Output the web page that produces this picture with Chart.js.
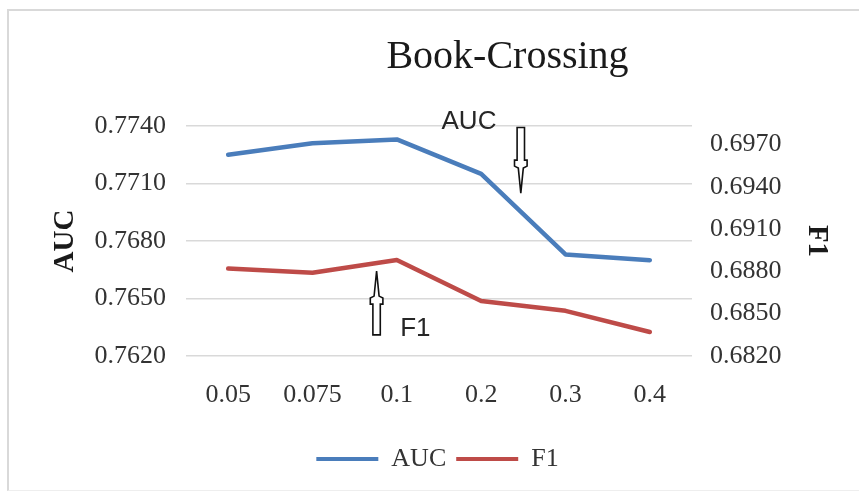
<!DOCTYPE html>
<html>
<head>
<meta charset="utf-8">
<script src="https://cdn.jsdelivr.net/npm/chart.js@4/dist/chart.umd.min.js"></script>
<style>
  body { margin: 0; background: #fff; overflow: hidden; }
  #wrap { position: relative; width: 859px; height: 493px; overflow: hidden; }
  #frame { position: absolute; left: 7px; top: 9px; right: -4px; bottom: 2px;
           border-left: 2px solid #d9d9d9; border-top: 2px solid #d9d9d9; border-bottom: 1px solid #eeeeee; }
  #grafico { position: absolute; left: 0; top: 0; }
</style>
</head>
<body>
<div id="wrap">
  <div id="frame"></div>
  <canvas id="grafico" width="859" height="493"></canvas>
</div>
<script>
// dados
const categorias = ['0.05', '0.075', '0.1', '0.2', '0.3', '0.4'];
const valoresAUC = [0.7725, 0.7731, 0.7733, 0.7715, 0.7673, 0.7670];
const valoresF1 = [0.6882, 0.6879, 0.6888, 0.6859, 0.6852, 0.6837];
const ticksAUC = [0.7620, 0.7650, 0.7680, 0.7710, 0.7740];
const ticksF1 = [0.6820, 0.6850, 0.6880, 0.6910, 0.6940, 0.6970];

const fonteSerif = 'Liberation Serif';
const corTexto = '#333333';

// setas e textos das anotações (posição em valores das escalas x / y)
const anotacoes = [
    { texto: 'AUC', tx: 2.53, ty: 0.77420, sx: 3.47, de: 0.77392, ate: 0.77050 },
    { texto: 'F1', tx: 2.04, ty: 0.76340, sx: 1.76, de: 0.76310, ate: 0.76643 }
];

function desenharSeta(ctx, x, y0, y1) {
    const dir = y1 > y0 ? 1 : -1;
    const L = Math.abs(y1 - y0);
    const c0 = L - 33, c1 = L - 27, c2 = L - 25;
    const pts = [
        [-3.7, 0], [3.7, 0], [3.7, c0], [6.3, c0], [6.3, c1], [2.5, c2], [0, L],
        [-2.5, c2], [-6.3, c1], [-6.3, c0], [-3.7, c0]
    ];
    ctx.beginPath();
    pts.forEach((p, i) => {
        const px = x + p[0];
        const py = y0 + dir * p[1];
        if (i === 0) ctx.moveTo(px, py); else ctx.lineTo(px, py);
    });
    ctx.closePath();
    ctx.fillStyle = '#ffffff';
    ctx.fill();
    ctx.lineWidth = 1.6;
    ctx.strokeStyle = '#111111';
    ctx.stroke();
}

const pluginNotas = {
    id: 'notas',
    afterLayout(chart) {
        // título e legenda deslocados para a direita como no original
        const t = chart.titleBlock;
        if (t) { t.left += 78; t.right += 78; }
        const l = chart.legend;
        if (l) { l.left += 8; l.right += 8; l.top += 2; l.bottom += 2; }
    },
    afterDatasetsDraw(chart) {
        const { ctx } = chart;
        const x = chart.scales.x;
        const y = chart.scales.y;
        ctx.save();
        anotacoes.forEach(a => {
            desenharSeta(ctx, x.getPixelForValue(a.sx), y.getPixelForValue(a.de), y.getPixelForValue(a.ate));
            ctx.font = '26px "Liberation Sans"';
            ctx.fillStyle = '#262626';
            ctx.textAlign = 'left';
            ctx.textBaseline = 'middle';
            ctx.fillText(a.texto, x.getPixelForValue(a.tx), y.getPixelForValue(a.ty));
        });
        ctx.restore();
    }
};

const ctx = document.getElementById('grafico').getContext('2d');
const grafico = new Chart(ctx, {
    type: 'line',
    data: {
        labels: categorias,
        datasets: [{
            label: 'AUC',
            data: valoresAUC,
            yAxisID: 'y',
            borderColor: '#4a7dbb',
            backgroundColor: '#4a7dbb',
            borderWidth: 4.5,
            pointRadius: 0,
            tension: 0,
            borderCapStyle: 'round',
            borderJoinStyle: 'round'
        }, {
            label: 'F1',
            data: valoresF1,
            yAxisID: 'y1',
            borderColor: '#be4b48',
            backgroundColor: '#be4b48',
            borderWidth: 4.5,
            pointRadius: 0,
            tension: 0,
            borderCapStyle: 'round',
            borderJoinStyle: 'round'
        }]
    },
    options: {
        responsive: false,
        animation: false,
        events: [],
        layout: { padding: { left: 8, right: 8, top: 0, bottom: 13 } },
        plugins: {
            title: {
                display: true,
                text: 'Book-Crossing',
                color: '#1a1a1a',
                font: { family: fonteSerif, size: 40, weight: 'normal' },
                padding: { top: 33, bottom: 45 }
            },
            legend: {
                position: 'bottom',
                labels: {
                    boxWidth: 62,
                    boxHeight: 4,
                    padding: 10,
                    color: corTexto,
                    font: { family: fonteSerif, size: 26 },
                    generateLabels: (chart) => Chart.defaults.plugins.legend.labels.generateLabels(chart)
                        .map(l => ({ ...l, lineWidth: 0 }))
                }
            },
            tooltip: { enabled: false }
        },
        scales: {
            x: {
                offset: true,
                grid: { display: false, offset: true },
                border: { display: false },
                ticks: { color: corTexto, font: { family: fonteSerif, size: 26 }, padding: 16, maxRotation: 0 },
                afterFit: (s) => { s.height = 78; }
            },
            y: {
                position: 'left',
                min: ticksAUC[0],
                max: ticksAUC[ticksAUC.length - 1],
                afterBuildTicks: (s) => { s.ticks = ticksAUC.map(v => ({ value: v })); },
                afterFit: (s) => { s.width = 178; },
                grid: { color: '#d9d9d9', lineWidth: 1.5, drawTicks: false },
                border: { display: false },
                ticks: {
                    color: corTexto, padding: 20,
                    font: { family: fonteSerif, size: 26 },
                    callback: (v) => Number(v).toFixed(4)
                },
                title: {
                    display: true, text: 'AUC', color: '#1a1a1a',
                    font: { family: fonteSerif, size: 29, weight: 'bold' },
                    padding: { top: 40, bottom: 13 }
                }
            },
            y1: {
                position: 'right',
                min: ticksF1[0],
                max: 0.6983,
                afterBuildTicks: (s) => { s.ticks = ticksF1.map(v => ({ value: v })); },
                afterFit: (s) => { s.width = 159; },
                grid: { display: false, drawTicks: false },
                border: { display: false },
                ticks: {
                    color: corTexto, padding: 18,
                    font: { family: fonteSerif, size: 26 },
                    callback: (v) => Number(v).toFixed(4)
                },
                title: {
                    display: true, text: 'F1', color: '#1a1a1a',
                    font: { family: fonteSerif, size: 29, weight: 'bold' },
                    padding: { top: 17, bottom: 17 }
                }
            }
        }
    },
    plugins: [pluginNotas]
});
</script>
</body>
</html>
